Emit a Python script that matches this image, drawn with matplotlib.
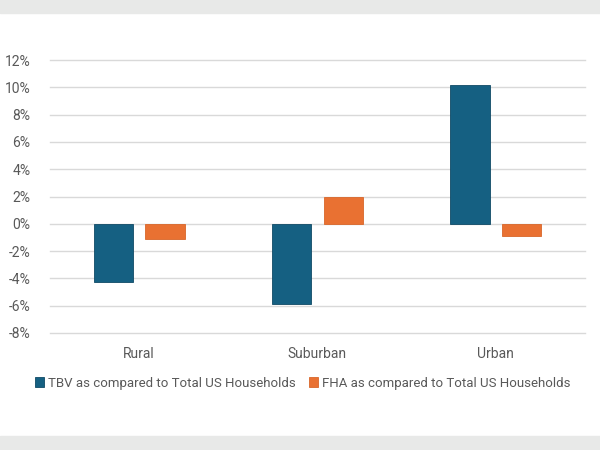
import matplotlib.pyplot as plt
from matplotlib.patches import Rectangle
import numpy as np

plt.rcParams['font.family'] = ['Roboto', 'DejaVu Sans']

categories = ['Rural', 'Suburban', 'Urban']
tbv = [-4.25, -5.9, 10.2]
fha = [-1.1, 2.0, -0.9]
series_names = ['TBV as compared to Total US Households', 'FHA as compared to Total US Households']

blue = '#156082'
orange = '#E97132'
grey_txt = '#595959'

fig = plt.figure(figsize=(6, 4.5), dpi=100)
fig.patches.append(Rectangle((0, 0), 1, 14 / 450, transform=fig.transFigure, color='#e8e9e8', zorder=-1))
fig.patches.append(Rectangle((0, 1 - 13 / 450), 1, 13 / 450, transform=fig.transFigure, color='#e8e9e8', zorder=-1))

ax = fig.add_axes([50 / 600, 1 - 333 / 450, 535 / 600, 273 / 450])
x = np.arange(len(categories))
w = 0.22
ax.bar(x - 0.145, tbv, w, color=blue, edgecolor='#104a66', linewidth=0.6, label=series_names[0], zorder=3)
ax.bar(x + 0.145, fha, w, color=orange, edgecolor='#d8662a', linewidth=0.6, label=series_names[1], zorder=3)

ax.set_xlim(-0.5, 2.5)
ax.set_ylim(-8, 12)
ax.set_yticks(range(-8, 13, 2))
ax.set_yticklabels([f'{v}%' for v in range(-8, 13, 2)])
ax.set_xticks(x)
ax.set_xticklabels(categories)
ax.yaxis.grid(True, color='#d9d9d9', linewidth=1)
for gl in ax.get_ygridlines():
    gl.set_clip_on(False)
ax.set_axisbelow(True)
for s in ax.spines.values():
    s.set_visible(False)
ax.tick_params(length=0, labelsize=10, colors=grey_txt)
ax.tick_params(axis='x', pad=10)
ax.tick_params(axis='y', pad=14)

fig.legend(loc='center', bbox_to_anchor=(303 / 600, 1 - 383 / 450), ncol=2, frameon=False,
           fontsize=9.5, labelcolor=grey_txt, handlelength=0.7, handleheight=0.7,
           handletextpad=0.3, columnspacing=1.0)

fig.savefig('out.png', dpi=100)
